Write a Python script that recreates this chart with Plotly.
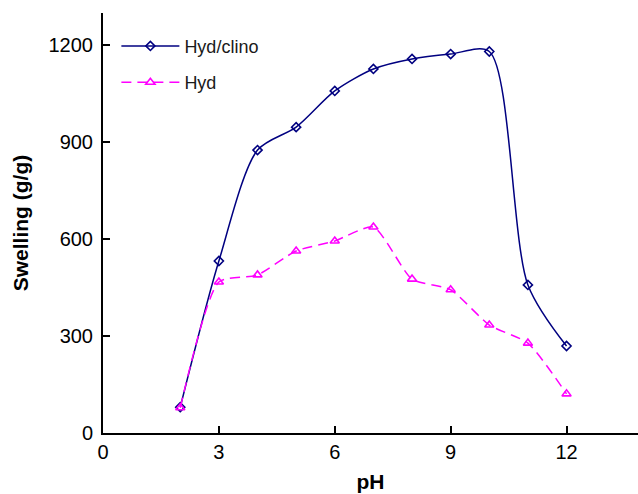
import plotly.graph_objects as go

# Swelling of hydrogels versus pH
ph = [2, 3, 4, 5, 6, 7, 8, 9, 10, 11, 12]
hyd_clino = [80, 532, 875, 946, 1058, 1126, 1157, 1172, 1180, 458, 269]
hyd = [78, 467, 489, 563, 594, 637, 476, 443, 334, 278, 121]

x_ticks = [0, 3, 6, 9, 12]
y_ticks = [0, 300, 600, 900, 1200]

fig = go.Figure()
fig.add_trace(go.Scatter(
    x=ph, y=hyd_clino, name="Hyd/clino", mode="lines+markers", legendgroup="a",
    line=dict(color="#000080", width=1.5, shape="spline", smoothing=0.8),
    marker=dict(symbol="diamond-open", size=7, color="#000080", line=dict(width=1.6)),
))
fig.add_trace(go.Scatter(
    x=ph, y=hyd, name="Hyd", mode="lines+markers", legendgroup="b",
    line=dict(color="#FF00FF", width=1.5, dash="10px,6px", shape="spline", smoothing=0.6),
    marker=dict(symbol="triangle-up-open", size=8, color="#FF00FF", line=dict(width=1.6)),
))

axis_font = dict(family="Liberation Sans, Arial, sans-serif", size=20, color="#000000")
fig.update_layout(
    width=638, height=494,
    margin=dict(l=103, r=0, t=13, b=61),
    paper_bgcolor="white", plot_bgcolor="white",
    font=axis_font,
    showlegend=True,
    legend=dict(x=0.025, y=0.965, xanchor="left", yanchor="top",
                bgcolor="rgba(0,0,0,0)", font=dict(size=18, color="#1a1a1a"),
                traceorder="grouped", tracegroupgap=10, itemwidth=58),
    xaxis=dict(
        range=[0, 13.85], tickvals=x_ticks, ticks="inside", ticklen=7,
        tickwidth=2, tickcolor="black", showline=True, linecolor="black",
        linewidth=2, showgrid=False, zeroline=False, tickfont=dict(size=20),
        title=dict(text="<b>pH</b>", standoff=12, font=dict(size=21)),
    ),
    yaxis=dict(
        range=[0, 1299], tickvals=y_ticks, ticks="inside", ticklen=7,
        tickwidth=2, tickcolor="black", showline=True, linecolor="black",
        linewidth=2, showgrid=False, zeroline=False, tickfont=dict(size=20),
        ticklabelstandoff=4,
        title=dict(text="<b>Swelling (g/g)</b>", standoff=14, font=dict(size=21)),
    ),
)

fig.write_html("out.html")
